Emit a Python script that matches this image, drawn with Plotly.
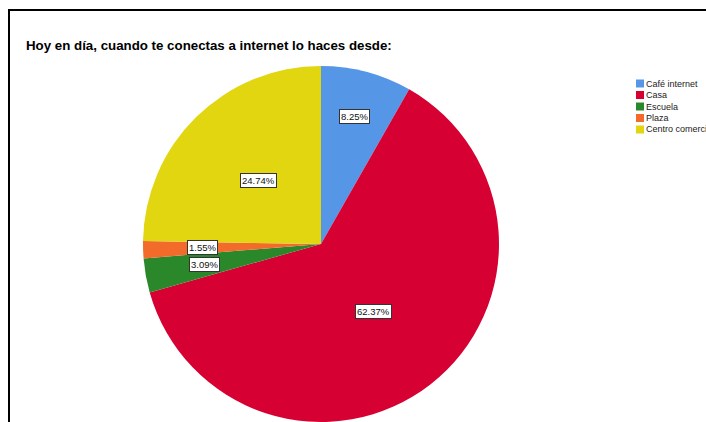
import math
import plotly.graph_objects as go

# Responses: "Hoy en día, cuando te conectas a internet lo haces desde:"
categories = ["Café internet", "Casa", "Escuela", "Plaza", "Centro comercial"]
counts = [16, 121, 6, 3, 48]
colors = ["#5596E6", "#D70032", "#2A882B", "#F26B2A", "#E1D60F"]
title = "Hoy en día, cuando te conectas a internet lo haces desde:"

W, H = 706, 422
R = 178                      # pie radius in px
CX, CY = 321, H - R          # pie centre in px (from top-left)
FONT = "Liberation Sans, Arial, sans-serif"

# radial position of each percentage box, as a fraction of the radius
label_radius = [0.74, 0.48, 0.665, 0.667, 0.50]

fig = go.Figure(
    go.Pie(
        labels=categories,
        values=counts,
        sort=False,
        direction="clockwise",
        rotation=0,
        marker=dict(colors=colors, line=dict(width=0)),
        textinfo="none",
        hoverinfo="label+percent",
        showlegend=False,
        domain=dict(x=[(CX - R) / W, (CX + R) / W], y=[0, 2 * R / H]),
    )
)

annotations = []
shapes = []

# percentage boxes at the middle angle of each slice
total = sum(counts)
start = 0.0
for v, f in zip(counts, label_radius):
    share = v / total
    mid = (start + share / 2) * 2 * math.pi
    start += share
    px = CX + f * R * math.sin(mid)
    py = CY - f * R * math.cos(mid)
    annotations.append(dict(
        x=px / W, y=1 - py / H, xref="paper", yref="paper",
        text=f"{share * 100:.2f}%", showarrow=False,
        xanchor="center", yanchor="middle",
        font=dict(family=FONT, size=9.5, color="#111111"),
        bgcolor="white", bordercolor="#333333", borderwidth=1, borderpad=1,
    ))

# title
annotations.append(dict(
    x=24 / W, y=1 - 45 / H, xref="paper", yref="paper",
    text=title, showarrow=False, xanchor="left", yanchor="middle",
    font=dict(family=FONT, size=13.3, color="#000000", weight="bold"),
))

# compact legend: swatch + name per category
LEG_X, LEG_Y0, LEG_STEP, SW = 636, 83.5, 11.5, 8
for i, (name, col) in enumerate(zip(categories, colors)):
    yc = LEG_Y0 + i * LEG_STEP
    shapes.append(dict(
        type="rect", xref="paper", yref="paper",
        x0=LEG_X / W, x1=(LEG_X + SW) / W,
        y0=1 - (yc + SW / 2) / H, y1=1 - (yc - SW / 2) / H,
        fillcolor=col, line=dict(width=0),
    ))
    annotations.append(dict(
        x=(LEG_X + SW) / W, y=1 - yc / H, xref="paper", yref="paper",
        text=name, showarrow=False, xanchor="left", yanchor="middle",
        font=dict(family=FONT, size=9, color="#222222"),
    ))

# frame lines along the top and left
shapes.append(dict(type="line", xref="paper", yref="paper",
                   x0=8 / W, x1=1.01, y0=1 - 10 / H, y1=1 - 10 / H,
                   line=dict(color="black", width=2)))
shapes.append(dict(type="line", xref="paper", yref="paper",
                   x0=9 / W, x1=9 / W, y0=1 - 10 / H, y1=-0.01,
                   line=dict(color="black", width=2)))

fig.update_layout(
    width=W, height=H,
    margin=dict(l=0, r=0, t=0, b=0, autoexpand=False),
    paper_bgcolor="white",
    plot_bgcolor="white",
    annotations=annotations,
    shapes=shapes,
    showlegend=False,
)

fig.write_html("out.html")
